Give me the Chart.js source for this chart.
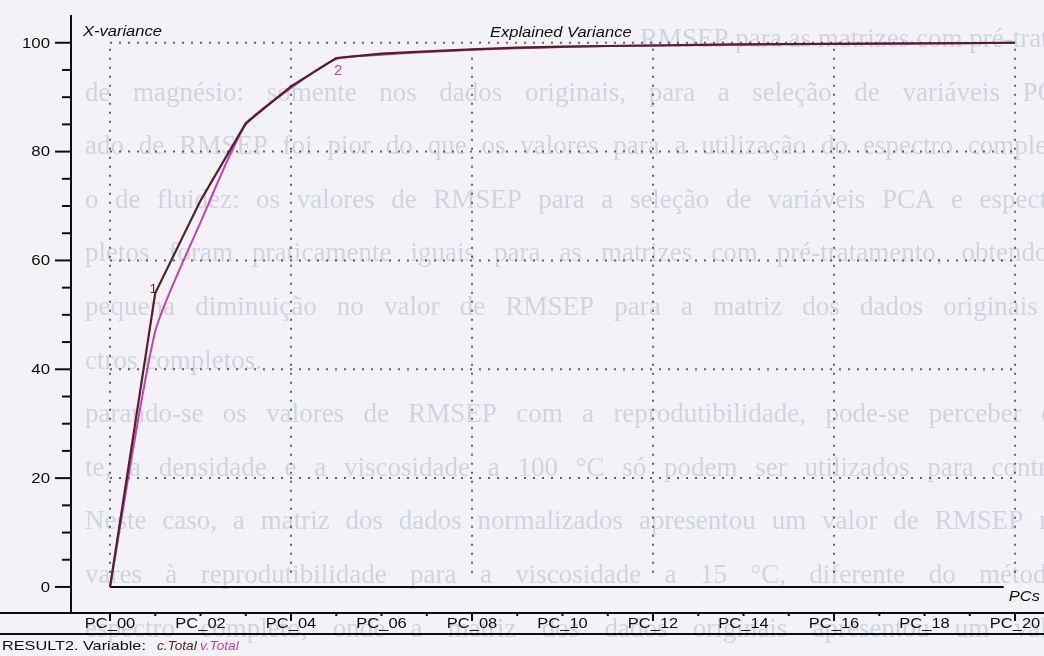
<!DOCTYPE html>
<html>
<head>
<meta charset="utf-8">
<title>Explained Variance</title>
<script src="https://cdn.jsdelivr.net/npm/chart.js@4.4.1/dist/chart.umd.min.js"></script>
<style>
  html, body { margin: 0; padding: 0; background: #f3f3f7; }
  #wrap { width: 1044px; height: 656px; }
</style>
</head>
<body>
<div id="wrap"><canvas id="varianceChart" width="1044" height="656"></canvas></div>
<script>
const pcLabels = ['PC_00', 'PC_01', 'PC_02', 'PC_03', 'PC_04', 'PC_05', 'PC_06', 'PC_07', 'PC_08', 'PC_09', 'PC_10',
                  'PC_11', 'PC_12', 'PC_13', 'PC_14', 'PC_15', 'PC_16', 'PC_17', 'PC_18', 'PC_19', 'PC_20'];
const cTotal = [0, 54, 71, 85.2, 92, 97.2, 98, 98.4, 98.8, 99.1, 99.3, 99.4, 99.5, 99.6, 99.7, 99.75, 99.8, 99.85, 99.9, 99.95, 100];
const vTotal = [0, 47, 67, 85, 91.7, 97, 97.8, 98.3, 98.7, 99.0, 99.2, 99.4, 99.5, 99.6, 99.7, 99.75, 99.8, 99.85, 99.9, 99.95, 100];
const yTickValues = [0, 20, 40, 60, 80, 100];
const gridPCs = [0, 4, 8, 12, 16, 20];

// faint page text printed under the plot: [text, left x, justify to x or 0]
const pageLines = [
    ['RMSEP para as matrizes com pré-tratamento.', 640, 0],
    ['de magnésio: somente nos dados originais, para a seleção de variáveis PCA', 85, 1075],
    ['ado de RMSEP foi pior do que os valores para a utilização do espectro completo.', 85, 1075],
    ['o de fluidez: os valores de RMSEP para a seleção de variáveis PCA e espectros', 85, 1080],
    ['pletos foram praticamente iguais para as matrizes com pré-tratamento, obtendo-se', 85, 1080],
    ['pequena diminuição no valor de RMSEP para a matriz dos dados originais e', 85, 1070],
    ['ctros completos.', 85, 0],
    ['parando-se os valores de RMSEP com a reprodutibilidade, pode-se perceber que', 85, 1080],
    ['te, a densidade e a viscosidade a 100 °C só podem ser utilizados para controle', 85, 1080],
    ['Neste caso, a matriz dos dados normalizados apresentou um valor de RMSEP m', 85, 1060],
    ['vares à reprodutibilidade para a viscosidade a 15 °C, diferente do método', 85, 1060],
    ['espectro completo, onde a matriz dos dados originais apresentou um valor', 85, 1070]
];

const paperColor = '#f3f3f7';
const pageTextColor = '#cfd4e0';
const inkColor = '#0e0e0e';
const cColor = '#55202c';   // c.Total, dark maroon
const vColor = '#c73fb8';   // v.Total, magenta
const sansFont = '"Liberation Sans", Arial, sans-serif';

// draws text stretched horizontally (the old plot fonts are wide)
function stretchText(ctx, str, x, y, font, color, align, sx) {
    ctx.save();
    ctx.font = font;
    ctx.fillStyle = color;
    ctx.textBaseline = 'middle';
    ctx.textAlign = align;
    ctx.translate(x, y);
    ctx.scale(sx, 1);
    ctx.fillText(str, 0, 0);
    ctx.restore();
}

// one justified line of serif text
function justifiedLine(ctx, str, x0, y, x1) {
    const words = str.split(' ');
    if (!x1 || words.length < 2) {
        ctx.fillText(str, x0, y);
        return;
    }
    const used = words.reduce((s, w) => s + ctx.measureText(w).width, 0);
    const gap = (x1 - x0 - used) / (words.length - 1);
    let px = x0;
    words.forEach(w => {
        ctx.fillText(w, px, y);
        px += ctx.measureText(w).width + gap;
    });
}

function strokeLine(ctx, x1, y1, x2, y2) {
    ctx.beginPath();
    ctx.moveTo(x1, y1);
    ctx.lineTo(x2, y2);
    ctx.stroke();
}

const variancePlot = {
    id: 'variancePlot',
    beforeDraw(chart) {
        const ctx = chart.ctx;
        ctx.save();
        ctx.fillStyle = paperColor;
        ctx.fillRect(0, 0, chart.width, chart.height);

        ctx.font = '27px "Liberation Serif", "Times New Roman", serif';
        ctx.fillStyle = pageTextColor;
        ctx.textBaseline = 'middle';
        ctx.textAlign = 'left';
        pageLines.forEach((ln, k) => {
            justifiedLine(ctx, ln[0], ln[1], 40 + k * 53.6, ln[2]);
        });
        ctx.restore();
    },
    beforeDatasetsDraw(chart) {
        const ctx = chart.ctx;
        const x = chart.scales.x, y = chart.scales.y;
        const left = x.getPixelForValue(0), right = x.getPixelForValue(20);
        const top = y.getPixelForValue(100), bottom = y.getPixelForValue(0);

        // dotted grid
        ctx.save();
        ctx.strokeStyle = 'rgba(60, 60, 72, 0.8)';
        ctx.lineWidth = 2;
        ctx.setLineDash([2, 7]);
        yTickValues.forEach(v => {
            if (v === 0) return;
            const py = y.getPixelForValue(v);
            strokeLine(ctx, left, py, right, py);
        });
        gridPCs.forEach(i => {
            const px = x.getPixelForValue(i);
            strokeLine(ctx, px, top + 6, px, bottom - 8);
        });
        ctx.setLineDash([]);

        // zero line
        ctx.strokeStyle = inkColor;
        ctx.lineWidth = 2;
        strokeLine(ctx, left, bottom, x.getPixelForValue(19.75), bottom);
        ctx.restore();
    },
    afterDatasetsDraw(chart) {
        const ctx = chart.ctx;
        const area = chart.chartArea;
        const x = chart.scales.x, y = chart.scales.y;

        ctx.save();
        ctx.strokeStyle = inkColor;
        ctx.lineWidth = 2;

        // y axis with major and minor ticks
        strokeLine(ctx, area.left, area.top, area.left, area.bottom + 1);
        for (let v = 0; v <= 100; v += 5) {
            const py = y.getPixelForValue(v);
            const len = v % 20 === 0 ? 16 : 9;
            strokeLine(ctx, area.left - len, py, area.left, py);
        }
        yTickValues.forEach(v => {
            stretchText(ctx, String(v), 50, y.getPixelForValue(v) + 1, '14px ' + sansFont, inkColor, 'right', 1.2);
        });

        // x axis runs across the whole strip
        const axisY = area.bottom + 1;
        strokeLine(ctx, 0, axisY, chart.width, axisY);
        strokeLine(ctx, 0, 634, chart.width, 634);
        pcLabels.forEach((lab, i) => {
            const px = x.getPixelForValue(i);
            strokeLine(ctx, px, axisY, px, axisY + (i % 4 === 0 ? 8 : 3));
            if (i % 2 === 0) {
                stretchText(ctx, lab, px, 624, '15px ' + sansFont, inkColor, 'center', 1.1);
            }
        });
        ctx.restore();

        // titles and captions
        stretchText(ctx, 'X-variance', 83, 32, 'italic 15px ' + sansFont, inkColor, 'left', 1.1);
        stretchText(ctx, 'Explained Variance', 490, 33, 'italic 15px ' + sansFont, inkColor, 'left', 1.1);
        stretchText(ctx, 'PCs', 1040, 597, 'italic 15px ' + sansFont, inkColor, 'right', 1.1);
        stretchText(ctx, 'RESULT2. Variable:', 2, 646, '13px ' + sansFont, inkColor, 'left', 1.25);
        stretchText(ctx, 'c.Total', 157, 646, 'italic 13px ' + sansFont, cColor, 'left', 1.05);
        stretchText(ctx, 'v.Total', 200, 646, 'italic 13px ' + sansFont, vColor, 'left', 1.05);

        // curve numbers
        stretchText(ctx, '1', x.getPixelForValue(1) - 2, y.getPixelForValue(cTotal[1]) - 4, '13px ' + sansFont, cColor, 'center', 1);
        stretchText(ctx, '2', x.getPixelForValue(5) + 2, y.getPixelForValue(vTotal[5]) + 12, '15px ' + sansFont, vColor, 'center', 1);
    }
};

const ctx = document.getElementById('varianceChart').getContext('2d');

new Chart(ctx, {
    type: 'line',
    data: {
        datasets: [{
            label: 'c.Total',
            data: cTotal.map((v, i) => ({ x: i, y: v })),
            borderColor: cColor,
            borderWidth: 2.2,
            pointRadius: 0,
            tension: 0
        }, {
            label: 'v.Total',
            data: vTotal.map((v, i) => ({ x: i, y: v })),
            borderColor: vColor,
            borderWidth: 2,
            pointRadius: 0,
            tension: 0.2
        }]
    },
    options: {
        responsive: false,
        animation: false,
        layout: {
            padding: { left: 71, right: 0, top: 15, bottom: 44 }
        },
        scales: {
            x: { type: 'linear', min: -0.862, max: 20.64, display: false },
            y: { min: -4.6, max: 105.1, display: false }
        },
        plugins: {
            legend: { display: false },
            tooltip: { enabled: false }
        }
    },
    plugins: [variancePlot]
});
</script>
</body>
</html>
